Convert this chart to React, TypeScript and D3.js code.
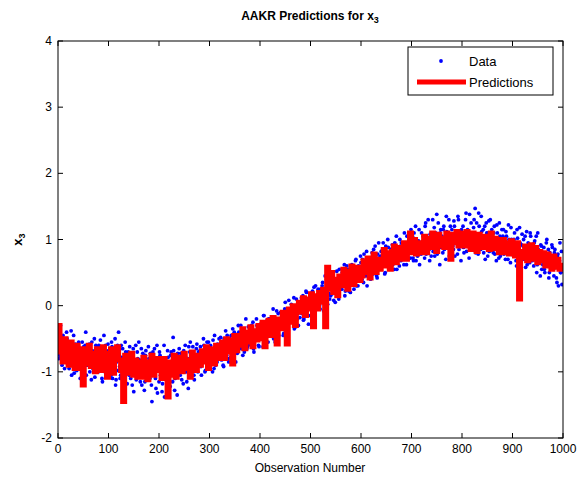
import React from 'react'
import * as d3 from 'd3'

// observed x3 at even observations (0, 2, ... 998)
const dataEven = [
  -0.35, -0.8, -0.55, -0.62, -0.9, -0.45, -0.7, -0.58, -0.82, -0.5,
  -0.72, -0.95, -0.6, -0.38, -0.85, -0.66, -1.02, -0.58, -0.77, -0.9,
  -0.62, -0.88, -1.1, -0.7, -0.55, -0.93, -0.8, -0.6, -1.05, -0.72,
  -0.9, -0.58, -0.75, -1.12, -0.68, -0.85, -0.5, -0.95, -0.8, -0.62,
  -1.0, -0.7, -0.52, -0.88, -1.15, -0.76, -0.92, -0.6, -0.85, -1.05,
  -0.68, -0.95, -0.8, -0.55, -1.1, -0.9, -0.72, -1.2, -0.85, -0.6,
  -0.4, -0.92, -1.05, -0.78, -0.65, -1.25, -0.88, -0.7, -1.0, -0.82,
  -0.95, -0.62, -1.1, -0.85, -0.75, -1.3, -0.92, -0.6, -1.02, -0.8,
  -0.55, -1.05, -0.88, -1.2, -0.72, -0.95, -1.15, -0.68, -0.9, -1.0,
  -0.8, -1.1, -0.95, -1.45, -0.7, -1.05, -0.88, -1.25, -0.6, -0.98,
  -1.15, -0.75, -0.9, -1.3, -0.85, -0.6, -1.05, -0.95, -1.2, -0.78,
  -0.88, -1.22, -0.7, -1.0, -0.48, -0.95, -1.1, -0.8, -1.35, -0.9,
  -0.65, -1.05, -0.9, -0.78, -1.18, -0.85, -0.6, -1.0, -0.92, -1.25,
  -0.8, -0.55, -1.0, -0.9, -0.72, -1.12, -0.85, -0.65, -0.95, -0.7,
  -0.9, -0.62, -1.05, -0.75, -0.5, -0.85, -0.98, -0.7, -0.82, -0.55,
  -0.85, -0.6, -0.75, -1.0, -0.68, -0.45, -0.9, -0.72, -0.58, -0.8,
  -0.7, -0.48, -0.82, -0.6, -0.92, -0.55, -0.38, -0.75, -0.62, -0.85,
  -0.5, -0.78, -0.62, -0.35, -0.7, -0.55, -0.85, -0.45, -0.6, -0.4,
  -0.62, -0.3, -0.55, -0.75, -0.42, -0.5, -0.2, -0.65, -0.48, -0.58,
  -0.35, -0.6, -0.48, -0.25, -0.7, -0.4, -0.52, -0.3, -0.45, -0.62,
  -0.5, -0.28, -0.4, -0.62, -0.15, -0.35, -0.48, -0.22, -0.55, -0.32,
  -0.2, -0.45, -0.3, -0.05, -0.38, -0.55, -0.25, -0.4, -0.12, -0.3,
  -0.35, -0.1, -0.28, -0.45, -0.15, 0.05, -0.3, -0.2, -0.38, -0.08,
  -0.18, 0.02, -0.25, -0.05, -0.35, -0.12, 0.1, -0.2, -0.3, 0.0,
  -0.1, 0.12, -0.05, -0.22, 0.08, -0.15, 0.2, 0.02, -0.28, 0.1,
  0.15, -0.05, 0.22, 0.05, -0.12, 0.3, 0.1, -0.02, 0.18, 0.0,
  0.25, 0.05, 0.35, -0.08, 0.2, 0.12, 0.4, 0.02, 0.28, 0.1,
  0.15, 0.42, 0.3, 0.08, 0.35, 0.2, 0.52, 0.25, 0.1, 0.38,
  0.45, 0.25, 0.55, 0.3, 0.15, 0.42, 0.6, 0.35, 0.22, 0.48,
  0.38, 0.62, 0.45, 0.25, 0.55, 0.7, 0.4, 0.3, 0.58, 0.5,
  0.65, 0.4, 0.55, 0.78, 0.45, 0.6, 0.3, 0.7, 0.52, 0.62,
  0.55, 0.8, 0.48, 0.68, 0.9, 0.6, 0.42, 0.72, 0.58, 0.75,
  0.82, 0.6, 0.95, 0.7, 0.5, 0.78, 0.65, 0.88, 0.55, 0.72,
  0.68, 0.92, 0.75, 0.55, 0.85, 1.05, 0.7, 0.8, 0.6, 0.9,
  0.95, 0.7, 0.85, 1.1, 0.75, 0.62, 0.9, 0.8, 1.0, 0.72,
  0.8, 1.05, 0.68, 0.92, 1.2, 0.85, 0.75, 0.98, 0.62, 0.9,
  1.1, 0.85, 0.95, 0.72, 1.25, 0.9, 0.8, 1.02, 0.68, 0.95,
  0.88, 1.3, 0.95, 0.75, 1.1, 1.38, 0.85, 1.0, 0.62, 1.15,
  1.05, 0.8, 1.2, 0.95, 0.7, 1.12, 0.9, 1.3, 1.0, 0.82,
  1.15, 0.9, 1.28, 0.75, 1.05, 0.95, 1.35, 0.85, 1.1, 0.68,
  0.95, 1.2, 0.8, 1.05, 1.4, 0.9, 1.12, 0.72, 1.0, 1.25,
  1.1, 0.85, 1.3, 1.47, 0.92, 1.05, 0.78, 1.2, 0.95, 1.35,
  0.88, 1.15, 1.0, 0.7, 1.25, 0.95, 1.1, 0.82, 1.3, 0.98,
  1.05, 0.8, 1.2, 0.92, 0.68, 1.1, 0.88, 1.25, 0.75, 1.0,
  0.85, 1.15, 0.95, 0.7, 1.05, 0.82, 1.22, 0.9, 0.65, 1.0,
  0.95, 0.75, 1.1, 0.88, 0.6, 1.02, 0.8, 1.18, 0.7, 0.92,
  0.72, 1.0, 0.85, 0.58, 1.12, 0.78, 0.9, 0.65, 1.05, 0.82,
  0.85, 0.6, 0.98, 0.72, 0.5, 1.1, 0.8, 0.65, 0.92, 0.55,
  0.62, 0.88, 0.5, 0.75, 1.0, 0.68, 0.42, 0.8, 0.6, 0.92,
  0.7, 0.45, 0.85, 0.6, 0.35, 0.78, 0.55, 0.95, 0.5, 0.32,
]

// observed x3 at odd observations (1, 3, ... 999)
const dataOdd = [
  -0.45, -0.75, -0.3, -0.68, -0.85, -0.52, -0.95, -0.62, -0.4, -0.78,
  -0.88, -0.55, -0.78, -1.05, -0.62, -0.45, -0.82, -0.7, -0.98, -0.58,
  -0.55, -0.95, -0.7, -0.85, -1.15, -0.62, -0.78, -0.4, -0.9, -0.68,
  -0.65, -1.0, -0.82, -0.55, -0.95, -0.72, -1.08, -0.6, -0.88, -0.75,
  -0.6, -0.92, -0.75, -1.1, -0.82, -0.45, -1.0, -0.7, -0.88, -0.58,
  -0.95, -0.7, -1.05, -0.62, -0.88, -0.78, -0.5, -1.12, -0.72, -0.98,
  -0.75, -1.1, -0.6, -0.9, -1.02, -0.82, -0.55, -0.95, -1.18, -0.7,
  -1.05, -0.72, -0.9, -1.2, -0.65, -0.98, -0.82, -1.12, -0.7, -0.92,
  -0.82, -1.15, -0.65, -1.0, -0.92, -1.28, -0.75, -0.88, -1.08, -0.62,
  -1.0, -0.72, -1.2, -0.88, -0.95, -0.65, -1.1, -0.82, -1.32, -0.9,
  -0.7, -1.05, -0.85, -1.18, -0.95, -1.38, -0.8, -1.0, -0.68, -1.1,
  -1.05, -0.75, -0.92, -1.15, -0.68, -1.28, -0.85, -0.98, -0.72, -1.02,
  -0.95, -0.72, -1.12, -0.85, -0.68, -1.0, -0.78, -1.15, -0.82, -0.62,
  -0.7, -0.98, -0.85, -0.62, -1.05, -0.78, -0.9, -0.58, -1.0, -0.85,
  -0.68, -0.92, -0.72, -0.85, -0.6, -1.0, -0.75, -0.55, -0.9, -0.8,
  -0.62, -0.88, -0.7, -0.52, -0.95, -0.78, -0.6, -0.85, -0.68, -0.5,
  -0.78, -0.55, -0.68, -0.9, -0.5, -0.72, -0.62, -0.45, -0.8, -0.58,
  -0.68, -0.45, -0.58, -0.75, -0.4, -0.65, -0.5, -0.72, -0.3, -0.6,
  -0.42, -0.65, -0.48, -0.35, -0.7, -0.55, -0.4, -0.62, -0.32, -0.52,
  -0.55, -0.3, -0.42, -0.65, -0.38, -0.5, -0.2, -0.45, -0.6, -0.35,
  -0.28, -0.5, -0.35, -0.15, -0.45, -0.3, -0.55, -0.4, -0.2, -0.38,
  -0.4, -0.18, -0.32, -0.5, -0.22, -0.35, -0.08, -0.3, -0.45, -0.2,
  -0.1, -0.32, -0.2, -0.42, -0.05, -0.25, -0.15, -0.35, 0.08, -0.22,
  -0.25, -0.05, -0.15, 0.12, -0.2, -0.32, -0.02, -0.12, 0.05, -0.18,
  0.05, -0.12, 0.15, -0.2, 0.0, 0.22, -0.08, 0.1, -0.15, 0.05,
  -0.02, 0.2, 0.05, 0.28, -0.1, 0.12, 0.0, 0.25, 0.08, -0.05,
  0.1, 0.3, 0.05, 0.22, 0.45, 0.15, -0.02, 0.28, 0.18, 0.35,
  0.35, 0.18, 0.45, 0.22, 0.05, 0.3, 0.4, 0.15, 0.55, 0.25,
  0.28, 0.5, 0.35, 0.62, 0.22, 0.4, 0.3, 0.55, 0.45, 0.2,
  0.55, 0.35, 0.5, 0.42, 0.68, 0.3, 0.52, 0.6, 0.4, 0.75,
  0.48, 0.7, 0.35, 0.6, 0.55, 0.82, 0.45, 0.58, 0.72, 0.4,
  0.7, 0.5, 0.85, 0.58, 0.62, 0.45, 0.78, 0.95, 0.55, 0.68,
  0.62, 0.85, 0.72, 0.48, 0.9, 0.68, 1.0, 0.6, 0.78, 0.85,
  0.85, 0.62, 0.8, 0.95, 0.7, 0.55, 0.88, 0.75, 1.0, 0.68,
  0.75, 0.92, 0.62, 0.88, 0.8, 1.05, 0.7, 0.95, 0.82, 1.15,
  0.95, 0.72, 1.1, 0.85, 0.68, 0.98, 0.82, 1.15, 0.9, 0.78,
  0.82, 1.05, 0.9, 1.2, 0.78, 0.95, 1.3, 0.85, 1.08, 0.75,
  1.05, 0.82, 1.18, 0.92, 1.0, 0.78, 1.25, 0.95, 1.1, 0.88,
  0.9, 1.15, 0.85, 1.05, 1.35, 0.92, 1.0, 0.75, 1.2, 1.08,
  1.02, 0.85, 1.2, 0.95, 1.1, 0.78, 1.3, 1.0, 0.9, 1.15,
  1.1, 0.88, 1.02, 1.3, 0.82, 1.15, 0.95, 1.38, 0.9, 1.05,
  0.9, 1.18, 1.0, 0.8, 1.25, 0.95, 1.4, 1.08, 0.85, 1.12,
  1.05, 0.8, 1.2, 0.92, 1.1, 0.75, 1.28, 0.98, 0.85, 1.15,
  0.85, 1.1, 0.78, 1.0, 1.22, 0.9, 0.72, 1.05, 0.95, 1.15,
  1.05, 0.78, 0.92, 1.12, 0.85, 0.7, 1.0, 0.88, 1.18, 0.8,
  0.78, 1.0, 0.85, 0.68, 1.15, 0.9, 0.72, 0.95, 0.82, 1.08,
  0.9, 0.7, 1.05, 0.8, 0.62, 0.95, 0.75, 1.1, 0.85, 0.68,
  0.7, 0.95, 0.8, 1.05, 0.62, 0.85, 0.72, 0.45, 0.9, 0.78,
  0.8, 0.55, 0.72, 0.95, 0.65, 0.85, 0.5, 0.75, 0.62, 0.88,
  0.55, 0.8, 0.62, 0.42, 0.75, 0.3, 0.68, 0.5, 0.82, 0.6,
]

// AAKR predictions, one value every 4 observations (0, 4, ... 996)
const predValues = [
  -0.3, -0.7, -0.85, -0.5, -0.72, -0.9, -0.55, -0.78, -0.95, -0.6,
  -0.65, -0.95, -1.2, -0.65, -0.88, -0.6, -0.92, -0.72, -1.0, -0.65,
  -0.7, -0.98, -0.62, -0.88, -1.08, -0.72, -0.65, -1.02, -0.78, -0.62,
  -0.82, -0.98, -1.45, -0.75, -1.02, -0.88, -0.72, -1.05, -0.82, -1.08,
  -0.85, -1.08, -0.78, -1.0, -1.12, -0.85, -0.75, -1.05, -0.95, -0.8,
  -0.98, -1.1, -0.8, -0.95, -1.38, -0.85, -1.05, -0.75, -1.08, -0.88,
  -0.78, -1.0, -0.72, -0.95, -0.82, -1.08, -0.7, -0.92, -0.98, -0.75,
  -0.9, -0.68, -0.85, -0.62, -0.95, -0.72, -0.65, -0.88, -0.6, -0.8,
  -0.75, -0.55, -0.8, -0.5, -0.7, -0.52, -0.88, -0.45, -0.68, -0.45,
  -0.6, -0.35, -0.65, -0.4, -0.55, -0.32, -0.62, -0.38, -0.52, -0.3,
  -0.5, -0.25, -0.62, -0.3, -0.22, -0.45, -0.18, -0.4, -0.58, -0.2,
  -0.35, -0.1, -0.25, -0.58, -0.05, -0.25, 0.0, -0.3, -0.08, 0.05,
  -0.1, 0.12, -0.15, 0.1, -0.05, 0.18, -0.32, 0.15, -0.05, 0.2,
  0.05, 0.25, -0.32, 0.58, 0.25, 0.5, 0.2, 0.4, 0.15, 0.45,
  0.3, 0.55, 0.35, 0.25, 0.52, 0.6, 0.32, 0.5, 0.58, 0.38,
  0.45, 0.68, 0.5, 0.72, 0.42, 0.65, 0.78, 0.5, 0.7, 0.55,
  0.62, 0.85, 0.6, 0.8, 0.55, 0.82, 0.9, 0.65, 0.88, 0.7,
  0.75, 0.95, 0.7, 0.92, 1.1, 0.8, 1.0, 0.78, 0.95, 0.8,
  0.85, 1.05, 0.8, 1.02, 0.88, 1.1, 0.92, 0.82, 1.08, 0.9,
  1.02, 0.88, 1.1, 0.92, 0.7, 1.08, 0.95, 1.12, 0.9, 1.05,
  1.1, 0.9, 1.12, 0.95, 0.85, 1.1, 0.98, 0.82, 1.08, 0.95,
  0.88, 1.05, 0.92, 0.85, 1.1, 0.86, 1.02, 0.9, 0.8, 1.0,
  1.0, 0.8, 0.95, 0.78, 0.98, 0.85, 0.75, 0.95, 0.1, 0.82,
  0.72, 0.9, 0.68, 0.85, 0.92, 0.7, 0.88, 0.65, 0.82, 0.68,
  0.8, 0.6, 0.78, 0.65, 0.55, 0.75, 0.58, 0.7, 0.55, 0.65,
]

const xTicks = [0, 100, 200, 300, 400, 500, 600, 700, 800, 900, 1000]
const yTicks = [-2, -1, 0, 1, 2, 3, 4]

const W = 585
const H = 479
const left = 58
const right = 563
const top = 41
const bottom = 438

const x = d3.scaleLinear().domain([0, 1000]).range([left, right])
const y = d3.scaleLinear().domain([-2, 4]).range([bottom, top])

const points = [
  ...dataEven.map((v, i) => ({ obs: i * 2, v })),
  ...dataOdd.map((v, i) => ({ obs: i * 2 + 1, v })),
]

const predLine = d3
  .line<number>()
  .x((d, i) => x(i * 4))
  .y((d) => y(d))
  .curve(d3.curveStepAfter)

const font = '"Liberation Sans", Arial, sans-serif'

const App = () => {
  return (
    <svg
      width={W}
      height={H}
      style={{ position: 'absolute', left: 0, top: 0, background: '#fff' }}
      fontFamily={font}
    >
      <defs>
        <clipPath id="plot">
          <rect x={left} y={top} width={right - left} height={bottom - top} />
        </clipPath>
      </defs>

      <g clipPath="url(#plot)">
        {points.map((p) => (
          <circle key={p.obs} cx={x(p.obs)} cy={y(p.v)} r={1.9} fill="#0000ff" />
        ))}
        <path d={predLine(predValues) || ''} fill="none" stroke="#ff0000" strokeWidth={5} />
      </g>

      {/* axes box and ticks */}
      <rect x={left} y={top} width={right - left} height={bottom - top} fill="none" stroke="#000" strokeWidth={1} />
      {xTicks.map((t) => (
        <g key={'x' + t}>
          <line x1={x(t)} x2={x(t)} y1={bottom} y2={bottom - 5} stroke="#000" />
          <line x1={x(t)} x2={x(t)} y1={top} y2={top + 5} stroke="#000" />
          <text x={x(t)} y={bottom + 15} fontSize={12} textAnchor="middle" fill="#000">
            {t}
          </text>
        </g>
      ))}
      {yTicks.map((t) => (
        <g key={'y' + t}>
          <line x1={left} x2={left + 5} y1={y(t)} y2={y(t)} stroke="#000" />
          <line x1={right} x2={right - 5} y1={y(t)} y2={y(t)} stroke="#000" />
          <text x={left - 6} y={y(t) + 4} fontSize={12} textAnchor="end" fill="#000">
            {t}
          </text>
        </g>
      ))}

      {/* title and labels */}
      <text x={310} y={20} fontSize={12} fontWeight="bold" textAnchor="middle">
        AAKR Predictions for x<tspan fontSize={9} dy={3}>3</tspan>
      </text>
      <text x={310} y={472} fontSize={12} textAnchor="middle">
        Observation Number
      </text>
      <text transform={`translate(22,${(top + bottom) / 2}) rotate(-90)`} fontSize={13} fontWeight="bold" textAnchor="middle">
        x<tspan fontSize={9} dy={3}>3</tspan>
      </text>

      {/* legend */}
      <rect x={408} y={47} width={145} height={48} fill="#fff" stroke="#000" strokeWidth={1} />
      <circle cx={441} cy={61} r={1.9} fill="#0000ff" />
      <text x={469} y={66} fontSize={13}>Data</text>
      <line x1={417} x2={466} y1={82} y2={82} stroke="#ff0000" strokeWidth={5} />
      <text x={469} y={87} fontSize={13}>Predictions</text>
    </svg>
  )
}

export default App
